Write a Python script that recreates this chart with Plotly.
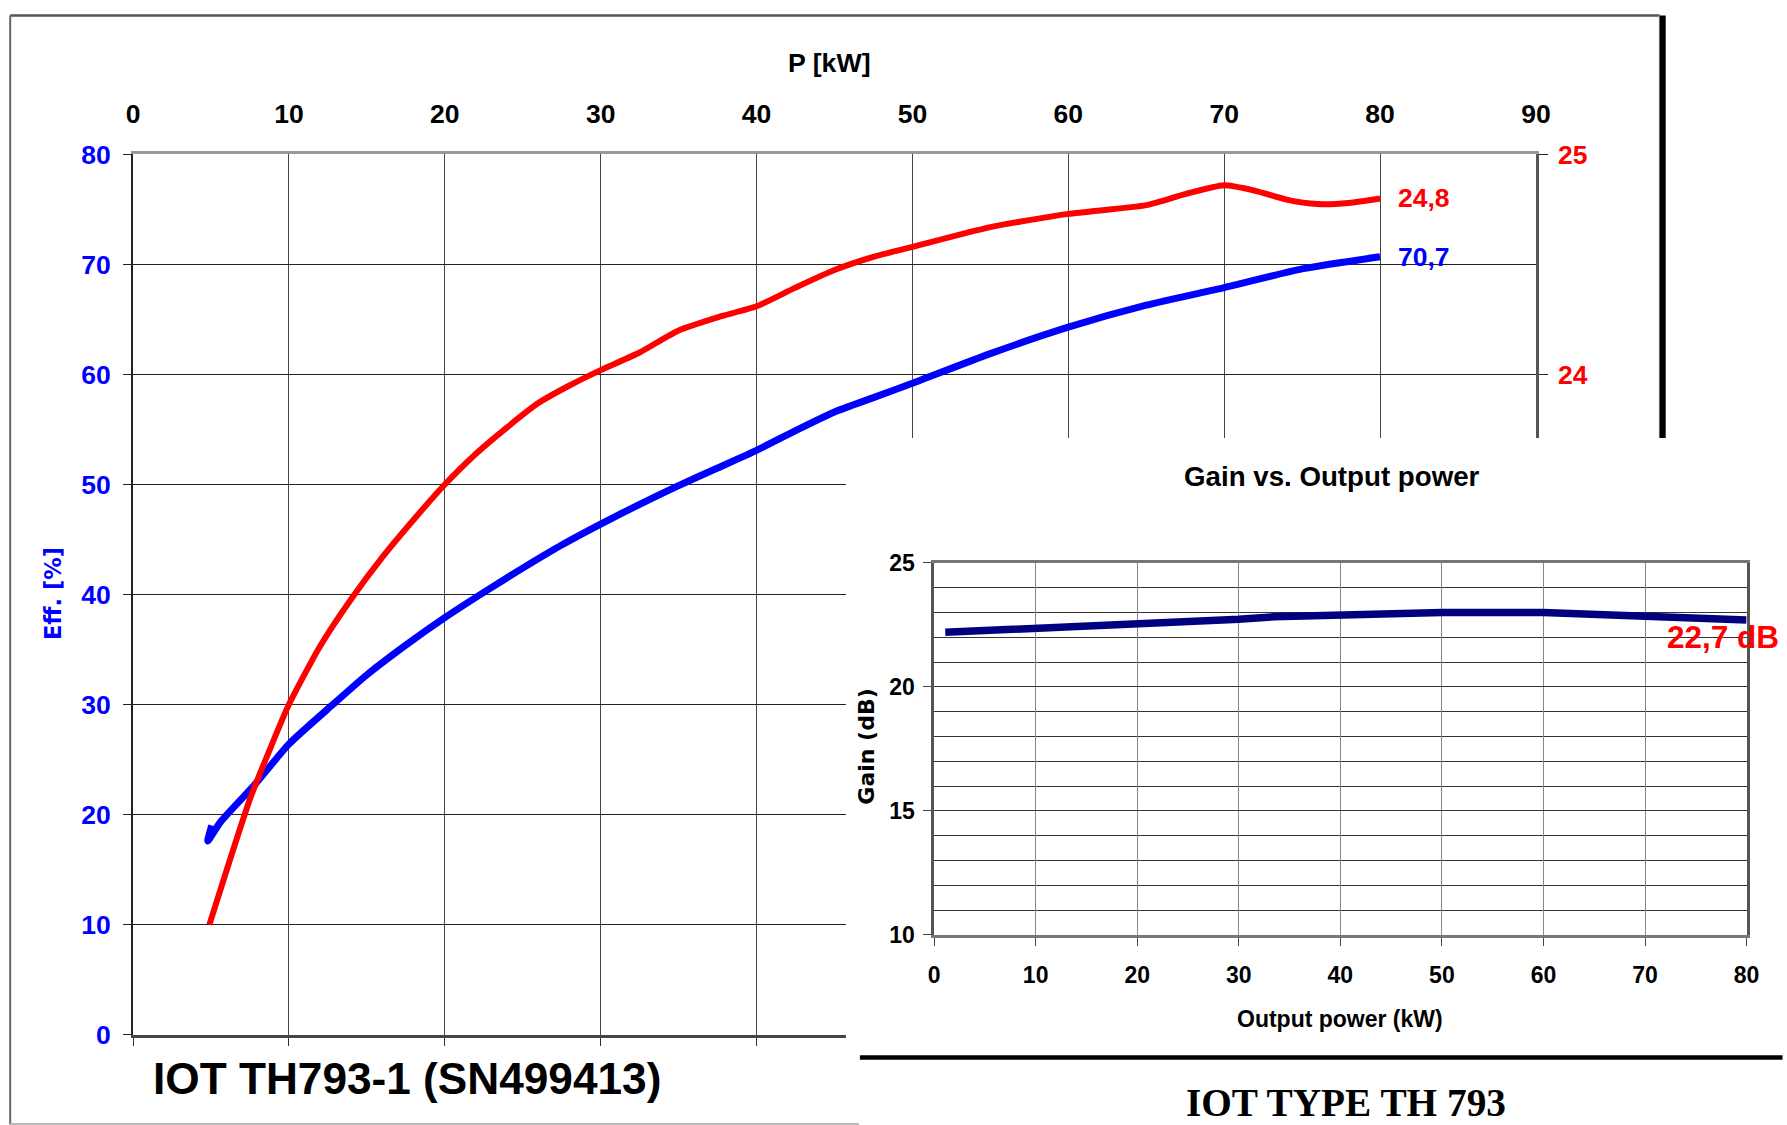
import plotly.graph_objects as go

# ---------------- data ----------------
# Main chart: efficiency (left axis, %) vs output power (kW)
eff_kw = [5.05, 4.8, 5.6, 7.8, 10.0, 12.9, 15.0, 17.5, 20.0, 22.5, 25.0, 27.5, 30.0,
          32.5, 35.0, 37.5, 40.0, 42.5, 45.0, 47.5, 50.0, 55.0, 60.0, 65.0, 70.0, 75.0, 80.0]
eff_pct = [19.0, 17.6, 19.3, 22.7, 26.4, 30.1, 32.7, 35.4, 37.9, 40.2, 42.4, 44.5, 46.4,
           48.2, 49.9, 51.5, 53.1, 54.9, 56.6, 57.9, 59.2, 61.9, 64.3, 66.3, 67.9, 69.6, 70.7]

# Main chart: gain (right axis, dB) vs output power (kW)
gain_kw = [4.9, 6.2, 7.5, 8.8, 10.0, 12.0, 14.0, 16.0, 18.0, 20.0, 22.0, 24.0, 26.0, 28.0,
           30.0, 32.5, 35.0, 37.5, 40.0, 42.5, 45.0, 47.5, 50.0, 55.0, 60.0, 65.0, 67.5,
           70.0, 72.0, 74.0, 76.0, 78.0, 80.0]
gain_db = [21.50, 21.79, 22.07, 22.30, 22.50, 22.765, 22.98, 23.17, 23.34, 23.50, 23.64,
           23.76, 23.87, 23.95, 24.02, 24.10, 24.20, 24.26, 24.31, 24.395, 24.475, 24.535,
           24.58, 24.67, 24.73, 24.77, 24.82, 24.86, 24.835, 24.795, 24.775, 24.78, 24.80]

# Inset: gain vs output power
inset_kw = [1.1, 10, 20, 30, 33.5, 40, 50, 60, 65, 70, 80]
inset_db = [22.2, 22.35, 22.55, 22.73, 22.83, 22.90, 23.0, 23.0, 22.93, 22.84, 22.70]

eff_end_label = "70,7"
gain_end_label = "24,8"
inset_end_label = "22,7 dB"

main_title = "IOT TH793-1 (SN499413)"
inset_title = "Gain vs. Output power"
footer = "IOT TYPE TH 793"

# ---------------- layout helpers ----------------
# figure canvas (page px); target positions are given in picture px and mapped
W, H = 1805, 1145
SX, OX, SY, OY = 0.9893, 4.8, 0.9745, 13.7

def fx(t):
    return (t - OX) / SX
def fy(t):
    return (t - OY) / SY
def px(t):
    return fx(t) / W
def py(t):
    return 1 - fy(t) / H

SANS = "Liberation Sans, Arial, sans-serif"
WIDE = "DejaVu Sans, Verdana, sans-serif"
SERIF = "Liberation Serif, Times New Roman, serif"
BLUE = "#0000ff"
RED = "#ff0000"

fig = go.Figure()

fig.add_trace(go.Scatter(x=eff_kw, y=eff_pct, mode="lines", xaxis="x", yaxis="y",
                         line=dict(color=BLUE, width=7, shape="spline", smoothing=0.6),
                         showlegend=False, hoverinfo="skip"))
fig.add_trace(go.Scatter(x=gain_kw, y=gain_db, mode="lines", xaxis="x2", yaxis="y2",
                         line=dict(color=RED, width=6, shape="spline", smoothing=0.6),
                         showlegend=False, hoverinfo="skip"))
# white cover panel (empty subplot) on which the inset sits
fig.add_trace(go.Scatter(x=[None], y=[None], xaxis="x3", yaxis="y3", mode="lines",
                         showlegend=False, hoverinfo="skip"))
fig.add_trace(go.Scatter(x=inset_kw, y=inset_db, mode="lines", xaxis="x4", yaxis="y4",
                         line=dict(color="#000080", width=7.5),
                         showlegend=False, hoverinfo="skip"))

main_dom_x = [px(131), px(1536)]
main_dom_y = [py(1034), py(153.3)]
inset_dom_x = [px(933.3), px(1747)]
inset_dom_y = [py(934.3), py(562)]

tick_font = lambda c, s: dict(family=SANS, size=s, color=c, weight="bold")

fig.update_layout(
    width=W, height=H,
    margin=dict(l=0, r=0, t=0, b=0),
    paper_bgcolor="white", plot_bgcolor="white",
    xaxis=dict(domain=main_dom_x, anchor="y", range=[0, 90], dtick=10, tick0=0,
               showticklabels=False, ticks="outside", ticklen=8, tickcolor="#333",
               showgrid=True, gridcolor="#444", gridwidth=1,
               showline=True, linecolor="#444", linewidth=3, zeroline=False),
    xaxis2=dict(overlaying="x", anchor="y", side="top", range=[0, 90], dtick=10, tick0=0,
                ticks="", showgrid=False, showline=True, linecolor="#999", linewidth=3,
                zeroline=False, tickfont=tick_font("black", 26.5), ticklabelstandoff=18),
    yaxis=dict(domain=main_dom_y, anchor="x", range=[0, 80], dtick=10, tick0=0,
               ticks="outside", ticklen=8, tickcolor="#222",
               tickfont=tick_font(BLUE, 26.5), ticklabelstandoff=7,
               showgrid=True, gridcolor="#222", gridwidth=1.3,
               showline=True, linecolor="#222", linewidth=2, zeroline=False),
    yaxis2=dict(overlaying="y", anchor="x", side="right", range=[21, 25], dtick=1, tick0=21,
                ticks="outside", ticklen=9, tickcolor="#222",
                tickfont=tick_font(RED, 26.5), ticklabelstandoff=5,
                showgrid=False, showline=True, linecolor="#555", linewidth=2.5,
                zeroline=False),
    xaxis3=dict(domain=[px(845), 1], anchor="y3", visible=False, range=[0, 1]),
    yaxis3=dict(domain=[0, py(437)], anchor="x3", visible=False, range=[0, 1]),
    xaxis4=dict(domain=inset_dom_x, anchor="y4", range=[0, 80], dtick=10, tick0=0,
                ticks="outside", ticklen=8, tickcolor="#444",
                tickfont=tick_font("black", 23), ticklabelstandoff=9,
                showgrid=True, gridcolor="#888", gridwidth=1,
                showline=True, linecolor="#777", linewidth=3, mirror=True, zeroline=False),
    yaxis4=dict(domain=inset_dom_y, anchor="x4", range=[10, 25], dtick=5, tick0=10,
                ticks="outside", ticklen=8, tickcolor="#444",
                tickfont=tick_font("black", 23), ticklabelstandoff=4,
                showgrid=True, gridcolor="#333", gridwidth=1,
                minor=dict(dtick=1, showgrid=True, gridcolor="#333", gridwidth=1, ticks=""),
                showline=True, linecolor="#555", linewidth=2.5, mirror=True, zeroline=False),
)

def note(text, x, y, font, **kw):
    d = dict(text=text, x=px(x), y=py(y), xref="paper", yref="paper", showarrow=False,
             font=font, xanchor="center", yanchor="middle")
    d.update(kw)
    return d

ann = [
    note("P [kW]", 829, 61.5, tick_font("black", 26.7)),
    note("Eff. [%]", 51, 593, dict(family=WIDE, size=22.5, color=BLUE, weight="bold"), textangle=-90),
    dict(text=gain_end_label, x=gain_kw[-1], y=gain_db[-1], xref="x2", yref="y2",
         showarrow=False, xanchor="left", yanchor="middle", xshift=16, font=tick_font(RED, 26.5)),
    dict(text=eff_end_label, x=eff_kw[-1], y=eff_pct[-1], xref="x", yref="y",
         showarrow=False, xanchor="left", yanchor="middle", xshift=16, font=tick_font(BLUE, 26.5)),
    note(inset_title, 1331.5, 476, tick_font("black", 27.7)),
    note("Output power (kW)", 1340, 1018, tick_font("black", 23)),
    note("Gain (dB)", 866, 746, dict(family=WIDE, size=22, color="black", weight="bold"), textangle=-90),
    note(inset_end_label, 1781, 636, tick_font(RED, 31.5), xanchor="right"),
    note(main_title, 405, 1078, tick_font("black", 44.2)),
    note(footer, 1346, 1102, dict(family=SERIF, size=39.3, color="black", weight="bold")),
]
fig.update_layout(annotations=ann)

def line(x0, y0, x1, y1, color, width):
    return dict(type="line", xref="paper", yref="paper", x0=px(x0), y0=min(py(y0), 0.9995),
                x1=px(x1), y1=min(py(y1), 0.9995), line=dict(color=color, width=width),
                layer="above")

fig.update_layout(shapes=[
    line(8, 2, 1660, 2, "#555", 2.5),
    line(8, 2, 8, 1124, "#666", 2),
    line(8, 1123.5, 858, 1123.5, "#bbb", 2),
    line(1660, 2, 1660, 437, "#888", 1.5),
    line(1663, 7, 1663, 437, "black", 6),
    line(859, 1057, 1783, 1057, "black", 4.5),
])

fig.write_html(
    "out.html",
    config={"displayModeBar": False},
    post_script=(
        "document.documentElement.style.margin='0';"
        "document.body.style.margin='0';"
        "document.body.style.padding='0';"
        "document.documentElement.style.overflow='hidden';"
        "document.body.style.overflow='hidden';"
    ),
)
